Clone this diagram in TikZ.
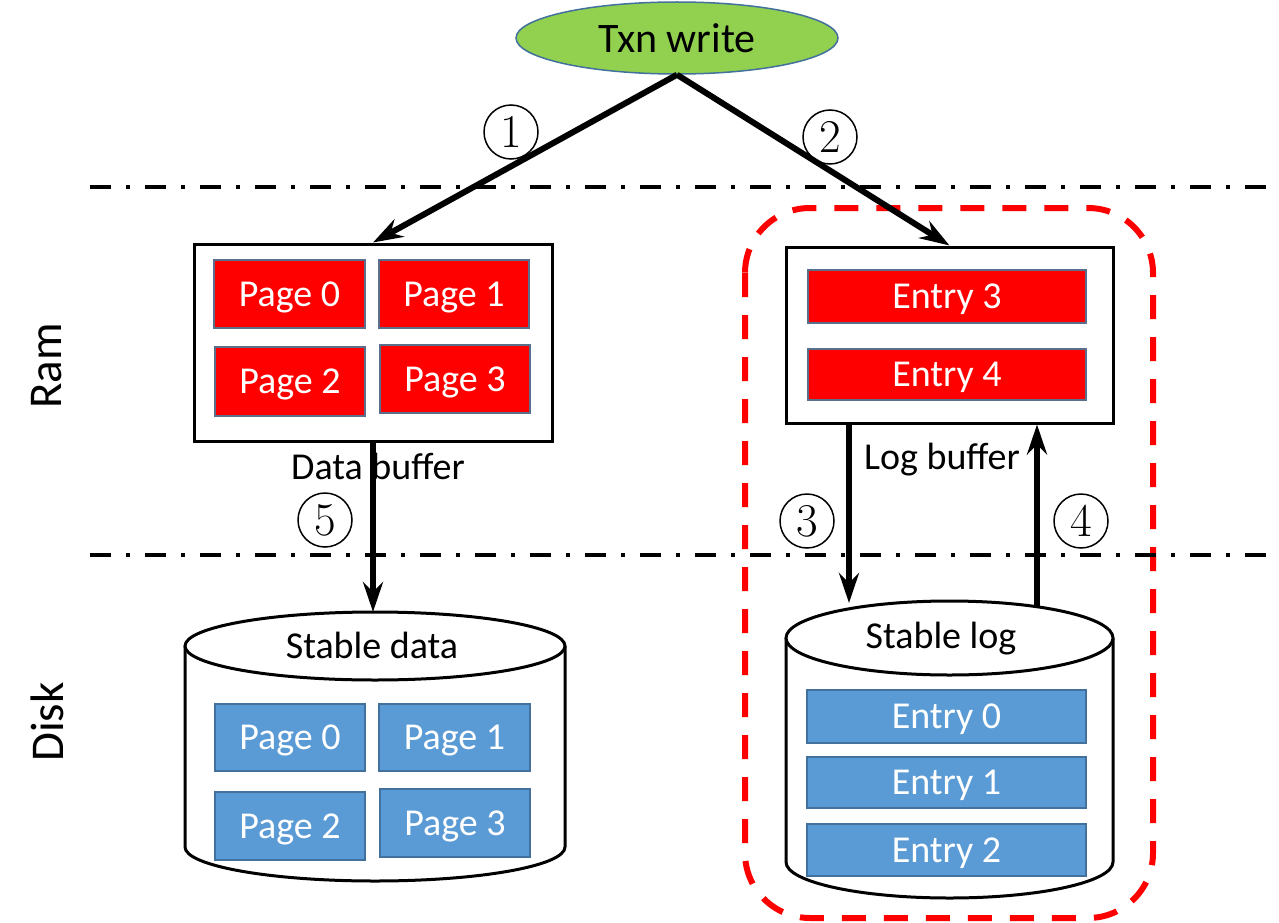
\documentclass[tikz,border=0pt]{standalone}
\usepackage{fontspec}
\setmainfont{Carlito}
\usetikzlibrary{arrows.meta, shapes.geometric, calc}

\definecolor{txngreen}{HTML}{92D050}
\definecolor{edgeblue}{HTML}{41719C}
\definecolor{diskblue}{HTML}{5B9BD5}
\definecolor{slate}{HTML}{5A6F8C}

\begin{document}
\begin{tikzpicture}[x=1pt, y=-1pt,
	flow/.style={line width=6pt, -{Stealth[length=30pt,width=20pt,inset=10pt]}},
	ramcell/.style={draw=slate, line width=1.5pt, fill=red, text=white, inner sep=0pt, text depth=0pt, font=\fontsize{38}{42}\selectfont},
	diskcell/.style={ramcell, draw=edgeblue, fill=diskblue},
	buffer/.style={draw, line width=3pt, inner sep=0pt},
	disk/.style={draw, line width=3pt, fill=white},
	stepnum/.style={circle, draw, line width=1.5pt, minimum size=54pt, inner sep=0pt, font=\fontfamily{lmr}\fontsize{47}{50}\selectfont},
	bufname/.style={text depth=0pt, font=\fontsize{38}{42}\selectfont},
	divider/.style={line width=4pt, dash pattern=on 21pt off 15pt on 4pt off 15pt}]
	\useasboundingbox (0,0) rectangle (1279,923);

	% log part
	\draw[red, line width=6pt, dash pattern=on 24pt off 18pt, rounded corners=65pt] (745,208) rectangle (1153,918);

	% ram / disk split
	\draw[divider] (90,187) -- (1279,187);
	\draw[divider] (90,555) -- (1279,555);
	\node[rotate=90, font=\fontsize{47}{50}\selectfont] (ram) at (47,366) {Ram};
	\node[rotate=90, font=\fontsize{47}{50}\selectfont] (disk) at (47,722) {Disk};

	\node[ellipse, draw=edgeblue, line width=1.5pt, fill=txngreen, minimum width=322pt, minimum height=72pt, inner sep=0pt, text depth=0pt, font=\fontsize{42}{46}\selectfont] (txn) at (677,38) {Txn write};

	% buffers
	\node[buffer, minimum width=358pt, minimum height=197pt] (dbuf) at (373,342.5) {};
	\node[ramcell, minimum width=151pt, minimum height=68pt] (rpage0) at (289.5,294) {Page 0};
	\node[ramcell, minimum width=150pt, minimum height=68pt] (rpage1) at (454,294) {Page 1};
	\node[ramcell, minimum width=150pt, minimum height=69pt] (rpage2) at (290,381.5) {Page 2};
	\node[ramcell, minimum width=150pt, minimum height=68pt] (rpage3) at (455,379) {Page 3};
	\node[bufname] (dbufname) at (378,466) {Data buffer};

	\node[buffer, minimum width=327pt, minimum height=176pt] (lbuf) at (949.5,335) {};
	\node[ramcell, minimum width=278pt, minimum height=53pt] (rentry3) at (947,296.5) {Entry 3};
	\node[ramcell, minimum width=278pt, minimum height=51pt] (rentry4) at (947,374.5) {Entry 4};
	\node[bufname] (lbufname) at (942,456) {Log buffer};

	% stable data
	\draw[disk] (185,646) -- (185,847) arc[start angle=180, end angle=360, x radius=190pt, y radius=34pt] -- (565,646);
	\draw[disk] (375,646) ellipse [x radius=190pt, y radius=34pt];
	\coordinate (dtop) at (373,612);
	\node[bufname] (dname) at (372,645) {Stable data};
	\node[diskcell, minimum width=150pt, minimum height=67pt] (dpage0) at (290,737.5) {Page 0};
	\node[diskcell, minimum width=151pt, minimum height=67pt] (dpage1) at (454.5,737.5) {Page 1};
	\node[diskcell, minimum width=150pt, minimum height=68pt] (dpage2) at (290,826) {Page 2};
	\node[diskcell, minimum width=150pt, minimum height=68pt] (dpage3) at (455,823) {Page 3};

	% stable log
	\draw[disk] (786,638) -- (786,862) arc[start angle=180, end angle=360, x radius=163.5pt, y radius=36pt] -- (1113,638);
	\draw[disk] (949.5,638) ellipse [x radius=163.5pt, y radius=37pt];
	\coordinate (ltop3) at (849,603);
	\coordinate (ltop4) at (1037,608);
	\node[bufname] (lname) at (941,635) {Stable log};
	\node[diskcell, minimum width=279pt, minimum height=53pt] (dentry0) at (946.5,716.5) {Entry 0};
	\node[diskcell, minimum width=279pt, minimum height=51pt] (dentry1) at (946.5,782.5) {Entry 1};
	\node[diskcell, minimum width=279pt, minimum height=52pt] (dentry2) at (946.5,850) {Entry 2};

	% steps
	\draw[flow] (txn.south) -- (dbuf.north);
	\draw[flow] (txn.south) -- (lbuf.north);
	\draw[flow] ($(lbuf.south)+(-100.5,0)$) -- (ltop3);
	\draw[flow] (ltop4) -- ($(lbuf.south)+(87.5,0)$);
	\draw[flow] (dbuf.south) -- (dtop);

	\node[stepnum] (s1) at (511,132) {1};
	\node[stepnum] (s2) at (830,137) {2};
	\node[stepnum] (s3) at (807,521) {3};
	\node[stepnum] (s4) at (1081,521) {4};
	\node[stepnum] (s5) at (325,520) {5};
\end{tikzpicture}
\end{document}
